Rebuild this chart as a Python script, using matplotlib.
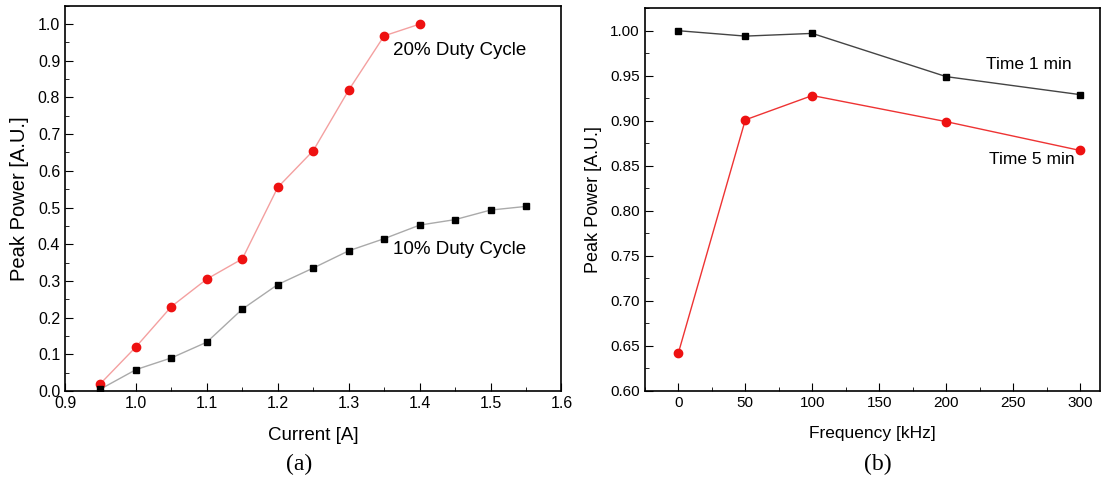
import matplotlib
matplotlib.use('Agg')
import matplotlib.pyplot as plt
from matplotlib.ticker import MultipleLocator

plt.rcParams['font.family'] = ['Liberation Sans', 'DejaVu Sans']

# (a) peak power vs current
current_20 = [0.95, 1.00, 1.05, 1.10, 1.15, 1.20, 1.25, 1.30, 1.35, 1.40]
power_20 = [0.02, 0.12, 0.23, 0.305, 0.36, 0.555, 0.655, 0.82, 0.968, 1.0]
current_10 = [0.95, 1.00, 1.05, 1.10, 1.15, 1.20, 1.25, 1.30, 1.35, 1.40, 1.45, 1.50, 1.55]
power_10 = [0.005, 0.058, 0.09, 0.133, 0.223, 0.29, 0.335, 0.382, 0.415, 0.452, 0.467, 0.493, 0.503]

# (b) peak power vs frequency
freq = [0, 50, 100, 200, 300]
power_1min = [1.0, 0.994, 0.997, 0.949, 0.929]
power_5min = [0.642, 0.901, 0.928, 0.899, 0.867]

fig = plt.figure(figsize=(11.08, 4.82), dpi=100)
ax1 = fig.add_axes([0.0587, 0.189, 0.448, 0.799])
ax2 = fig.add_axes([0.582, 0.189, 0.411, 0.794])

ax1.plot(current_20, power_20, '-', color='#f4a0a0', lw=1, zorder=2)
ax1.plot(current_20, power_20, 'o', color='#ee1111', ms=6, zorder=3)
ax1.plot(current_10, power_10, '-', color='#aaaaaa', lw=1, zorder=2)
ax1.plot(current_10, power_10, 's', color='black', ms=5, zorder=3)
ax1.text(1.362, 0.928, '20% Duty Cycle', fontsize=13.5, va='center')
ax1.text(1.362, 0.385, '10% Duty Cycle', fontsize=13.5, va='center')
ax1.set_xlim(0.9, 1.6)
ax1.set_ylim(0, 1.05)
ax1.xaxis.set_major_locator(MultipleLocator(0.1))
ax1.xaxis.set_minor_locator(MultipleLocator(0.05))
ax1.yaxis.set_major_locator(MultipleLocator(0.1))
ax1.yaxis.set_minor_locator(MultipleLocator(0.05))
ax1.set_xlabel('Current [A]', fontsize=13.5, labelpad=12)
ax1.set_ylabel('Peak Power [A.U.]', fontsize=14.5, labelpad=6)
ax1.tick_params(labelsize=11.5)

ax2.plot(freq, power_1min, '-', color='#444444', lw=1, zorder=2)
ax2.plot(freq, power_1min, 's', color='black', ms=5, zorder=3)
ax2.plot(freq, power_5min, '-', color='#ee3333', lw=1, zorder=2)
ax2.plot(freq, power_5min, 'o', color='#ee1111', ms=6, zorder=3)
ax2.text(230, 0.962, 'Time 1 min', fontsize=12.5, va='center')
ax2.text(232, 0.857, 'Time 5 min', fontsize=12.5, va='center')
ax2.set_xlim(-25, 315)
ax2.set_ylim(0.6, 1.025)
ax2.xaxis.set_major_locator(MultipleLocator(50))
ax2.xaxis.set_minor_locator(MultipleLocator(25))
ax2.yaxis.set_major_locator(MultipleLocator(0.05))
ax2.yaxis.set_minor_locator(MultipleLocator(0.025))
ax2.yaxis.set_major_formatter(plt.FormatStrFormatter('%.2f'))
ax2.set_xlabel('Frequency [kHz]', fontsize=12.5, labelpad=12)
ax2.set_ylabel('Peak Power [A.U.]', fontsize=13, labelpad=6)
ax2.tick_params(labelsize=11)

for ax in (ax1, ax2):
    ax.tick_params(which='both', direction='in', top=False, right=False)
    ax.tick_params(which='major', length=6)
    ax.tick_params(which='minor', length=3)
    for s in ax.spines.values():
        s.set_linewidth(1.2)

fig.text(0.27, 0.025, '(a)', fontsize=17, family='Liberation Serif', ha='center')
fig.text(0.792, 0.025, '(b)', fontsize=17, family='Liberation Serif', ha='center')

fig.savefig('out.png', dpi=100)
